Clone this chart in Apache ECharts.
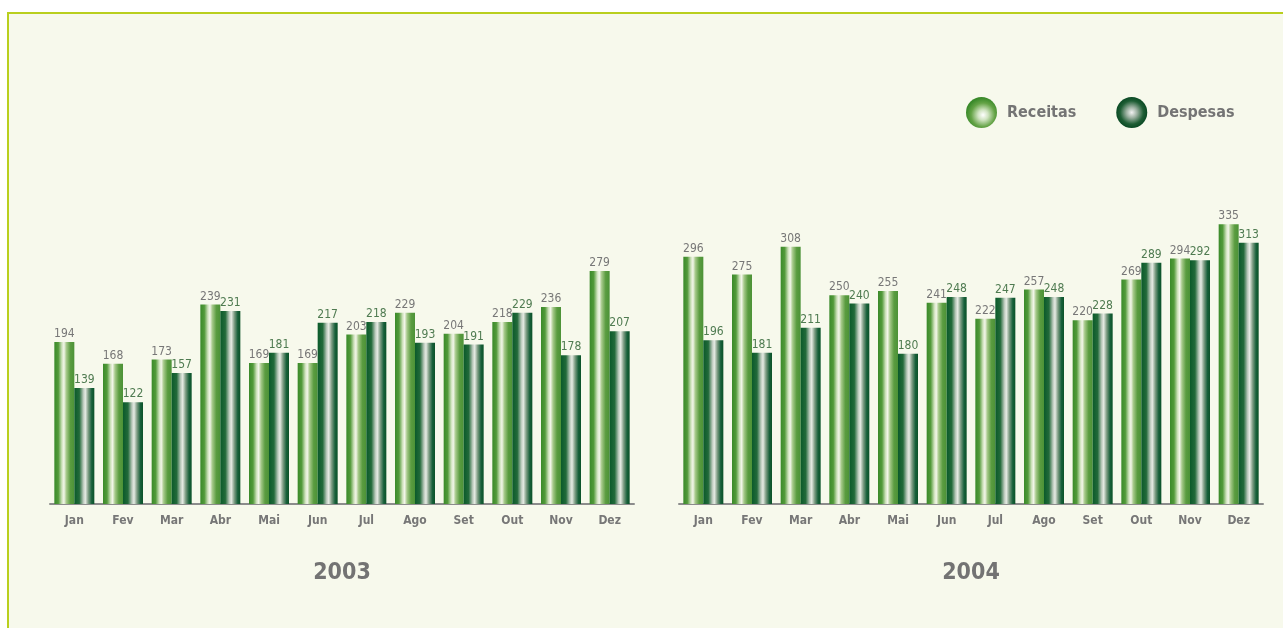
<!DOCTYPE html>
<html>
<head>
<meta charset="utf-8">
<script src="https://cdn.jsdelivr.net/npm/echarts@6/dist/echarts.min.js"></script>
<style>
  html, body { margin: 0; padding: 0; background: #ffffff; }
  #frame {
    position: absolute; left: 7px; top: 12px; right: 0; bottom: 0;
    background: #f7f9ec;
    border-top: 2px solid #b9cf1e;
    border-left: 2px solid #b9cf1e;
  }
  #chart { position: absolute; left: 0; top: 0; width: 1283px; height: 628px; }
</style>
</head>
<body>
<div id="frame"></div>
<div id="chart"></div>
<script>
// dados
const months = ["Jan", "Fev", "Mar", "Abr", "Mai", "Jun", "Jul", "Ago", "Set", "Out", "Nov", "Dez"];
const receitas2003 = [194, 168, 173, 239, 169, 169, 203, 229, 204, 218, 236, 279];
const despesas2003 = [139, 122, 157, 231, 181, 217, 218, 193, 191, 229, 178, 207];
const receitas2004 = [296, 275, 308, 250, 255, 241, 222, 257, 220, 269, 294, 335];
const despesas2004 = [196, 181, 211, 240, 180, 248, 247, 248, 228, 289, 292, 313];
const years = ["2003", "2004"];

const FONT = '"Liberation Sans Narrow", "DejaVu Sans Condensed", sans-serif';

// gradientes das barras
const receitaFill = new echarts.graphic.LinearGradient(0, 0, 1, 0, [
  { offset: 0, color: "#3a8a2a" },
  { offset: 0.2, color: "#529a3a" },
  { offset: 0.38, color: "#cfe2bd" },
  { offset: 0.48, color: "#f3f6ea" },
  { offset: 0.6, color: "#a6c98a" },
  { offset: 0.8, color: "#5a9c40" },
  { offset: 1, color: "#4c9237" },
]);
const despesaFill = new echarts.graphic.LinearGradient(0, 0, 1, 0, [
  { offset: 0, color: "#0a5a2a" },
  { offset: 0.25, color: "#226a3a" },
  { offset: 0.45, color: "#bccabd" },
  { offset: 0.55, color: "#e6ebe4" },
  { offset: 0.7, color: "#7d9c83" },
  { offset: 0.87, color: "#17603a" },
  { offset: 1, color: "#0b5228" },
]);

const receitaIcon = new echarts.graphic.RadialGradient(0.55, 0.58, 0.55, [
  { offset: 0, color: "#ffffff" },
  { offset: 0.3, color: "#cfe3c0" },
  { offset: 0.7, color: "#64a346" },
  { offset: 1, color: "#3a8a2a" },
]);
const despesaIcon = new echarts.graphic.RadialGradient(0.5, 0.5, 0.5, [
  { offset: 0, color: "#f2f2f2" },
  { offset: 0.35, color: "#9bb0a0" },
  { offset: 0.75, color: "#1f5e35" },
  { offset: 1, color: "#0a4a24" },
]);

function barSeries(name, data, idx, fill, labelColor) {
  return {
    name: name,
    type: "bar",
    xAxisIndex: idx,
    yAxisIndex: idx,
    data: data,
    barWidth: 20,
    barGap: "0%",
    itemStyle: { color: fill },
    label: {
      show: true,
      position: "top",
      distance: 2,
      color: labelColor,
      fontFamily: FONT,
      fontSize: 12,
    },
  };
}

const gridLefts = [50, 679];

const chart = echarts.init(document.getElementById("chart"), null, { renderer: "canvas" });

chart.setOption({
  animation: false,
  backgroundColor: "transparent",
  textStyle: { fontFamily: FONT },
  legend: {
    left: 966,
    top: 97,
    padding: 0,
    itemWidth: 31,
    itemHeight: 31,
    itemGap: 40,
    icon: "circle",
    textStyle: {
      color: "#747474",
      fontSize: 16,
      fontWeight: "bold",
      fontFamily: FONT,
      padding: [0, 0, 0, 5],
    },
    data: [
      { name: "Receitas", itemStyle: { color: receitaIcon } },
      { name: "Despesas", itemStyle: { color: despesaIcon } },
    ],
  },
  title: years.map((y, i) => ({
    text: y,
    left: gridLefts[i] + 292,
    top: 562,
    padding: 0,
    textAlign: "center",
    textStyle: { color: "#737373", fontSize: 23, fontWeight: "bold", fontFamily: FONT },
  })),
  grid: gridLefts.map((l) => ({ left: l, width: 584, top: 170, height: 334 })),
  xAxis: gridLefts.map((l, i) => ({
    type: "category",
    gridIndex: i,
    data: months,
    axisLine: { lineStyle: { color: "#8c8c8c", width: 2 } },
    axisTick: { show: false },
    axisLabel: {
      color: "#777777",
      fontWeight: "bold",
      fontSize: 12,
      fontFamily: FONT,
      margin: 11,
    },
  })),
  yAxis: gridLefts.map((l, i) => ({
    type: "value",
    gridIndex: i,
    min: 0,
    max: 400,
    show: false,
    splitLine: { show: false },
  })),
  series: [
    barSeries("Receitas", receitas2003, 0, receitaFill, "#777777"),
    barSeries("Despesas", despesas2003, 0, despesaFill, "#4f7b51"),
    barSeries("Receitas", receitas2004, 1, receitaFill, "#777777"),
    barSeries("Despesas", despesas2004, 1, despesaFill, "#4f7b51"),
  ],
});
</script>
</body>
</html>
